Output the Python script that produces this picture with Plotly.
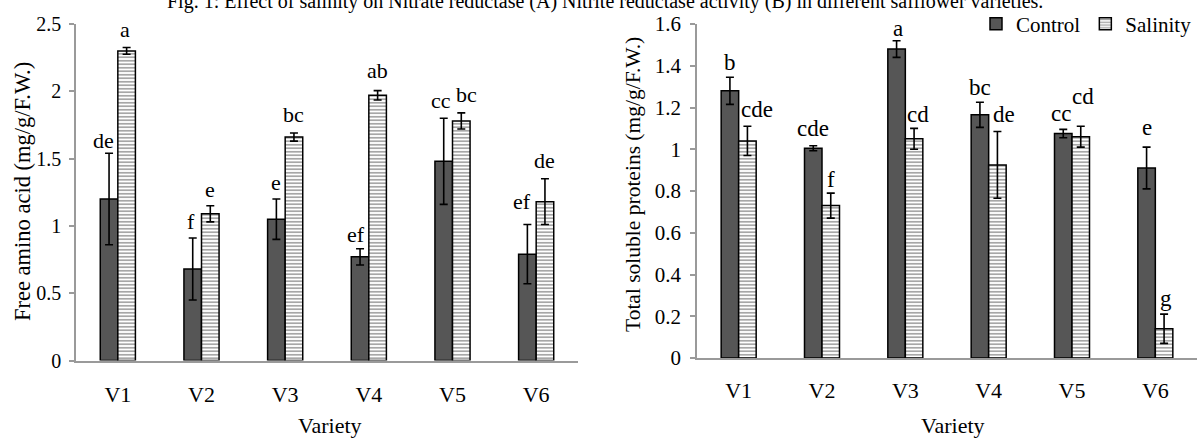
import plotly.graph_objects as go

varieties = ["V1", "V2", "V3", "V4", "V5", "V6"]

# Panel A: free amino acid (mg/g F.W.)
faa_control = [1.20, 0.68, 1.05, 0.77, 1.48, 0.79]
faa_control_err = [0.34, 0.23, 0.15, 0.06, 0.32, 0.22]
faa_salinity = [2.30, 1.09, 1.66, 1.97, 1.78, 1.18]
faa_salinity_err = [0.025, 0.06, 0.03, 0.035, 0.06, 0.17]
faa_control_letters = ["de", "f", "e", "ef", "cc", "ef"]
faa_salinity_letters = ["a", "e", "bc", "ab", "bc", "de"]

# Panel B: total soluble proteins (mg/g F.W.)
tsp_control = [1.28, 1.005, 1.48, 1.165, 1.075, 0.91]
tsp_control_err = [0.065, 0.012, 0.04, 0.06, 0.02, 0.10]
tsp_salinity = [1.04, 0.73, 1.05, 0.925, 1.06, 0.14]
tsp_salinity_err = [0.07, 0.06, 0.05, 0.16, 0.05, 0.07]
tsp_control_letters = ["b", "cde", "a", "bc", "cc", "e"]
tsp_salinity_letters = ["cde", "f", "cd", "de", "cd", "g"]

W, H = 1197, 438
FONT = "Liberation Serif"
CTRL_COLOR = "#565656"

# pixel layout
L_X0, L_X1 = 76, 578
R_X0, R_X1 = 697, 1197
L_Y0, L_Y1 = 360.5, 24
R_Y0, R_Y1 = 358, 24


def px_x(p):
    return p / W


def px_y(p):
    return 1 - p / H


def fnt(size):
    return dict(family=FONT, size=size, color="black")


fig = go.Figure()

ctrl_style = dict(marker=dict(color=CTRL_COLOR, line=dict(color="black", width=1.5)))
sal_style = dict(marker=dict(color="white", line=dict(color="black", width=1.5),
                             pattern=dict(shape="-", fgcolor="#3c3c3c", bgcolor="white",
                                          size=3.5, solidity=0.45)))
err_style = dict(type="data", color="black", thickness=1.6, width=4)

fig.add_trace(go.Bar(x=varieties, y=faa_control, name="Control", xaxis="x", yaxis="y",
                     error_y=dict(array=faa_control_err, **err_style),
                     offsetgroup="c", showlegend=True, legendgroup="c", **ctrl_style))
fig.add_trace(go.Bar(x=varieties, y=faa_salinity, name="Salinity", xaxis="x", yaxis="y",
                     error_y=dict(array=faa_salinity_err, **err_style),
                     offsetgroup="s", showlegend=True, legendgroup="s", **sal_style))
fig.add_trace(go.Bar(x=varieties, y=tsp_control, name="Control", xaxis="x2", yaxis="y2",
                     error_y=dict(array=tsp_control_err, **err_style),
                     offsetgroup="c", showlegend=False, legendgroup="c", **ctrl_style))
fig.add_trace(go.Bar(x=varieties, y=tsp_salinity, name="Salinity", xaxis="x2", yaxis="y2",
                     error_y=dict(array=tsp_salinity_err, **err_style),
                     offsetgroup="s", showlegend=False, legendgroup="s", **sal_style))

annotations = []
half_bar = 8.8

# per-label pixel nudges (style only)
faa_c_dx = [-6, -2, 0, -4, -3, -5]
faa_c_dy = [0, 4, 4, 2, 5, 11]
faa_s_dx = [-2, 0, 0, 0, 5, 0]
faa_s_dy = [6, 4, 6, 8, 6, 6]
tsp_c_dx = [0, 0, 1, 0, -2, 0]
tsp_c_dy = [2, 5, 0, 2, 3, 7]
tsp_s_dx = [10, 0, 4, 7, 2, 2]
tsp_s_dy = [4, 1, 1, 5, 17, 3]


def add_letters(xa, ya, vals, errs, letters, side, dxs, dys, size):
    for v, m, e, t, dx, dy in zip(varieties, vals, errs, letters, dxs, dys):
        annotations.append(dict(x=v, y=m + e, xref=xa, yref=ya, text=t, showarrow=False,
                                xanchor="center", yanchor="bottom",
                                xshift=side * half_bar + dx, yshift=dy - 2,
                                font=fnt(size)))


add_letters("x", "y", faa_control, faa_control_err, faa_control_letters, -1, faa_c_dx, faa_c_dy, 22)
add_letters("x", "y", faa_salinity, faa_salinity_err, faa_salinity_letters, 1, faa_s_dx, faa_s_dy, 22)
add_letters("x2", "y2", tsp_control, tsp_control_err, tsp_control_letters, -1, tsp_c_dx, tsp_c_dy, 23)
add_letters("x2", "y2", tsp_salinity, tsp_salinity_err, tsp_salinity_letters, 1, tsp_s_dx, tsp_s_dy, 23)

# title (partially cropped at top as in source)
annotations.append(dict(
    text="Fig. 1: Effect of salinity on Nitrate reductase (A) Nitrite reductase activity (B) in different safflower varieties.",
    x=px_x(605), y=1, xref="paper", yref="paper", xanchor="center", yanchor="middle",
    yshift=-1, showarrow=False, font=fnt(20)))

# axis titles
annotations.append(dict(text="Free amino acid (mg/g/F.W.)", x=px_x(22), y=px_y(192),
                        xref="paper", yref="paper", textangle=-90, showarrow=False,
                        xanchor="center", yanchor="middle", font=fnt(22.5)))
annotations.append(dict(text="Total soluble proteins (mg/g/F.W.)", x=px_x(633), y=px_y(185),
                        xref="paper", yref="paper", textangle=-90, showarrow=False,
                        xanchor="center", yanchor="middle", font=fnt(21.5)))
annotations.append(dict(text="Variety", x=px_x(330), y=px_y(425), xref="paper", yref="paper",
                        showarrow=False, xanchor="center", yanchor="middle", font=fnt(22)))
annotations.append(dict(text="Variety", x=px_x(953), y=px_y(425), xref="paper", yref="paper",
                        showarrow=False, xanchor="center", yanchor="middle", font=fnt(22)))

axis_common = dict(showgrid=False, zeroline=False, showline=True, linecolor="#9a9a9a",
                   linewidth=1.5, automargin=False)

fig.update_layout(
    width=W, height=H,
    margin=dict(l=0, r=0, t=0, b=0, pad=0, autoexpand=False),
    paper_bgcolor="white", plot_bgcolor="white",
    barmode="group", bargap=0.58, bargroupgap=0,
    font=fnt(20),
    xaxis=dict(domain=[px_x(L_X0), px_x(L_X1)], anchor="y", ticks="",
               ticklabelstandoff=13, tickfont=fnt(22), **axis_common),
    yaxis=dict(domain=[px_y(L_Y0), px_y(L_Y1)], anchor="x", range=[0, 2.5],
               tickvals=[0, 0.5, 1, 1.5, 2, 2.5], ticktext=["0", "0.5", "1", "1.5", "2", "2.5"],
               ticks="outside", ticklen=5, tickcolor="#9a9a9a", tickwidth=1.5,
               ticklabelstandoff=4, tickfont=fnt(20), **axis_common),
    xaxis2=dict(domain=[px_x(R_X0), px_x(R_X1)], anchor="y2", ticks="",
                ticklabelstandoff=12, tickfont=fnt(22), **axis_common),
    yaxis2=dict(domain=[px_y(R_Y0), px_y(R_Y1)], anchor="x2", range=[0, 1.6],
                tickvals=[0, 0.2, 0.4, 0.6, 0.8, 1, 1.2, 1.4, 1.6],
                ticktext=["0", "0.2", "0.4", "0.6", "0.8", "1", "1.2", "1.4", "1.6"],
                ticks="outside", ticklen=5, tickcolor="#9a9a9a", tickwidth=1.5,
                ticklabelstandoff=5, tickfont=fnt(21), **axis_common),
    legend=dict(orientation="h", x=1, xanchor="right", y=px_y(24), yanchor="middle",
                font=fnt(21), bgcolor="rgba(0,0,0,0)",
                itemwidth=30, tracegroupgap=0),
    annotations=annotations,
)

fig.write_html("out.html")
